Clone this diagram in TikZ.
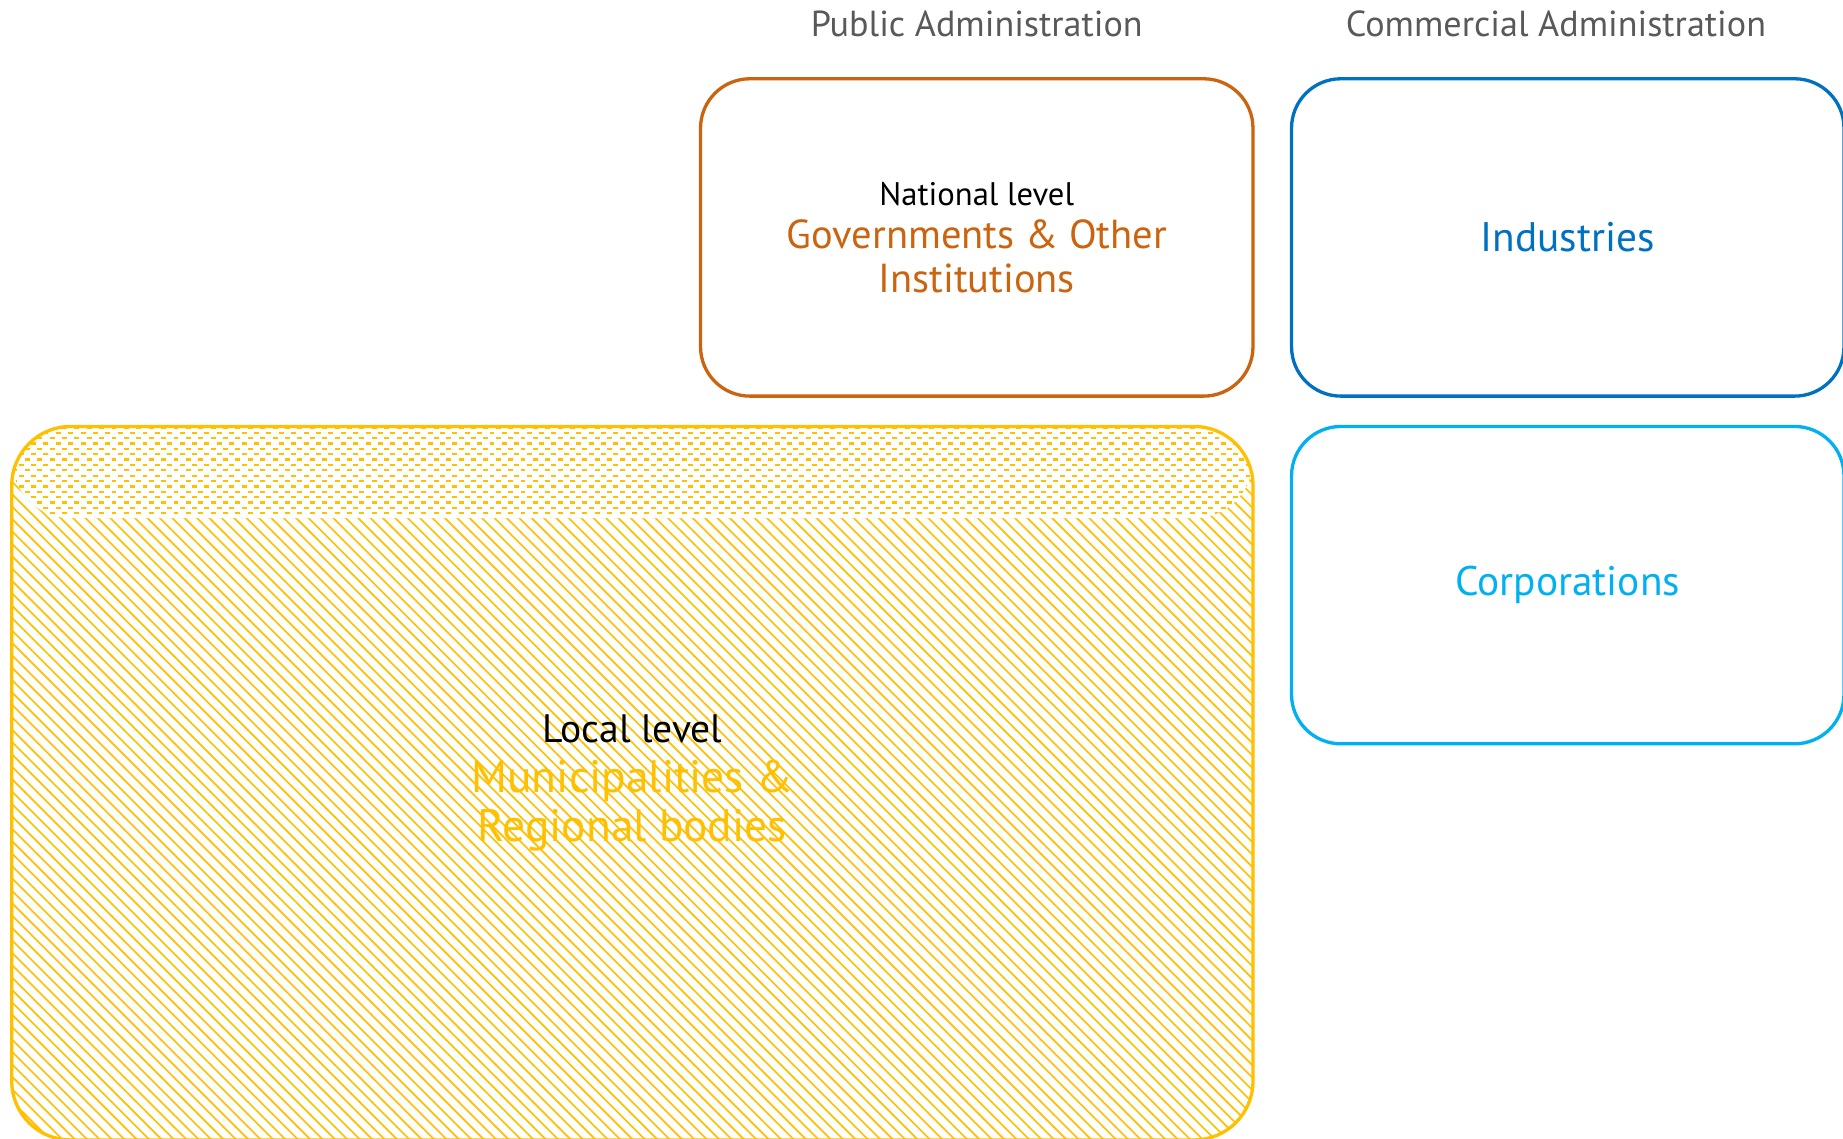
\documentclass[tikz,border=0pt]{standalone}
\usepackage{fontspec}
\setmainfont{PT Sans}
\usepackage{tikz}
\usetikzlibrary{calc,positioning,patterns}

\definecolor{natorange}{HTML}{CA6410}
\definecolor{indblue}{HTML}{0070C0}
\definecolor{corpblue}{HTML}{00B0F0}
\definecolor{localyellow}{HTML}{FFC000}
\definecolor{headgray}{HTML}{595959}

% short dashes in rows, for the top band of the local box
\pgfdeclarepatternformonly{hdash}{\pgfqpoint{-0.1pt}{-0.1pt}}{\pgfqpoint{3.1pt}{2.7pt}}{\pgfqpoint{3pt}{2.6pt}}{
\pgfsetlinewidth{0.55pt}
\pgfpathmoveto{\pgfqpoint{0pt}{0.65pt}}\pgfpathlineto{\pgfqpoint{1.2pt}{0.65pt}}
\pgfpathmoveto{\pgfqpoint{1.5pt}{1.95pt}}\pgfpathlineto{\pgfqpoint{2.7pt}{1.95pt}}
\pgfusepath{stroke}}

\tikzset{
box/.style={draw, line width=0.8pt, rounded corners=0.42cm, align=center, inner sep=0pt,
  minimum width=4.70cm, minimum height=2.70cm},
head/.style={text=headgray, font=\fontsize{8.75}{10.8}\selectfont, inner sep=0pt},
}

\begin{document}
\begin{tikzpicture}
\useasboundingbox (0,0) rectangle (15.68,-9.69);
\node[box, draw=natorange, text=natorange, font=\fontsize{9.8}{10.6}\selectfont] (national) at (8.31,-2.02)
  {{\color{black}\fontsize{7.9}{10.6}\selectfont National level}\\
   Governments \& Other\\
   Institutions};
\node[box, draw=indblue, text=indblue, font=\fontsize{10}{11}\selectfont, right=0.30cm of national] (industries)
  {Industries};
\node[box, draw=corpblue, text=corpblue, font=\fontsize{10}{11}\selectfont, below=0.23cm of industries] (corporations)
  {Corporations};
%\node[box] (local) at (5.38,-6.65) {};
\node[box, draw=localyellow, text=localyellow, rounded corners=0.5cm,
  font=\fontsize{11}{12}\selectfont,
  pattern=north west lines, pattern color=localyellow,
  minimum width=10.56cm, minimum height=6.07cm, anchor=north east,
  path picture={
    \fill[white] (path picture bounding box.north west) rectangle ([yshift=-0.78cm]path picture bounding box.north east);
    \fill[pattern=hdash, pattern color=localyellow] (path picture bounding box.north west) rectangle ([yshift=-0.78cm]path picture bounding box.north east);
  }] (local) at ($(national.south east)+(0,-0.23)$)
  {{\color{black}\fontsize{9.6}{12}\selectfont Local level}\\
   Municipalities \&\\
   Regional bodies};
\node[head] (pubhead) at ($(national.north)+(0,0.45)$) {Public Administration};
\node[head] (comhead) at ($(industries.north)+(-0.10,0.45)$) {Commercial Administration};
\end{tikzpicture}
\end{document}
